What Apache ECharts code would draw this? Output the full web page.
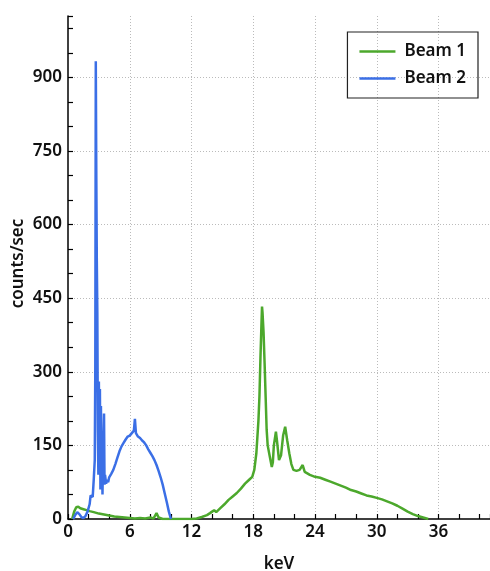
<!DOCTYPE html>
<html>
<head>
<meta charset="utf-8">
<script src="https://cdn.jsdelivr.net/npm/echarts@6/dist/echarts.min.js"></script>
<style>
  html, body { margin: 0; padding: 0; background: #fff; }
  #chart { width: 490px; height: 571px; }
</style>
</head>
<body>
<div id="chart"></div>
<script>
// energy spectra (keV vs counts/sec)
const beam1Kev = [0.4, 0.6, 0.8, 1.0, 1.2, 1.5, 1.8, 2.1, 2.5, 3.0, 3.5, 4.0, 4.5, 5.0, 5.5, 6.0, 6.5, 7.0, 7.5, 8.0, 8.3, 8.6, 8.8, 9.2, 10, 11, 12,
    12.5, 13.0, 13.5, 13.8, 14.0, 14.2, 14.4, 14.8, 15.2, 15.6, 16.0, 16.4, 16.8, 17.2, 17.6, 17.9, 18.1, 18.3, 18.5, 18.6, 18.7, 18.8, 18.85, 18.9,
    19.0, 19.1, 19.2, 19.3, 19.4, 19.6, 19.8, 19.9, 20.0, 20.2, 20.3, 20.5, 20.7, 20.9, 21.1, 21.3, 21.5, 21.7, 21.9, 22.2, 22.5, 22.8, 23.0, 23.5,
    24.0, 24.5, 25.0, 25.5, 26.0, 26.5, 27.0, 27.5, 28.0, 28.5, 29.0, 29.5, 30.0, 30.5, 31.0, 31.5, 32.0, 32.5, 33.0, 33.5, 34.0, 34.5, 35.0];
const beam1Counts = [0, 15, 24, 25, 22, 20, 18, 16, 14, 11, 9, 7, 5, 4, 3, 2, 1, 2, 1, 3, 1, 12, 3, 0, 0, 0, 0,
    1, 4, 8, 12, 15, 18, 14, 22, 30, 39, 46, 53, 62, 72, 80, 86, 100, 134, 200, 250, 330, 400, 433, 420,
    380, 318, 250, 182, 150, 128, 106, 115, 150, 178, 160, 120, 130, 170, 188, 160, 134, 112, 100, 98, 100, 110, 96, 90,
    86, 84, 80, 76, 72, 68, 64, 59, 56, 52, 48, 46, 43, 40, 36, 32, 27, 21, 15, 10, 6, 3, 0];

const beam2Kev = [0.5, 0.7, 0.9, 1.1, 1.3, 1.5, 1.7, 1.9, 2.1, 2.2, 2.3, 2.4, 2.5, 2.6, 2.65, 2.7, 2.75, 2.8, 2.85, 2.9, 2.95, 3.0, 3.05, 3.1,
    3.15, 3.2, 3.25, 3.3, 3.35, 3.4, 3.5, 3.55, 3.6, 3.7, 3.8, 3.9, 4.0, 4.2, 4.4, 4.6, 4.8, 5.0, 5.2, 5.4, 5.6, 5.8, 6.0, 6.2, 6.4, 6.5, 6.6,
    6.8, 7.0, 7.2, 7.4, 7.6, 7.8, 8.0, 8.2, 8.4, 8.6, 8.8, 9.0, 9.2, 9.4, 9.6, 9.8, 10.0];
const beam2Counts = [0, 8, 14, 10, 4, 2, 6, 15, 30, 48, 52, 45, 80, 120, 300, 933, 700, 525, 420, 180, 90, 280, 120, 265,
    60, 230, 80, 150, 50, 120, 215, 70, 90, 72, 80, 75, 85, 92, 100, 112, 125, 138, 148, 155, 162, 168, 170, 175, 180, 204, 175,
    168, 165, 160, 156, 150, 142, 135, 128, 120, 110, 98, 85, 70, 52, 34, 15, 0];

const xLabelStep = 6;
const yLabelStep = 150;

const zip = (xs, ys) => xs.map((x, i) => [x, ys[i]]);

const textStyle = { fontFamily: 'Noto Sans', fontSize: 17, fontWeight: 600, color: '#111' };
const lineIcon = 'path://M0,0 L40,0 L40,3 L0,3 Z';

const initChart = () => {
    const myChart = echarts.init(document.getElementById('chart'));
    myChart.setOption({
        animation: false,
        grid: { left: 68, right: 0, top: 16, bottom: 52, containLabel: false, outerBoundsMode: 'none' },
        legend: {
            orient: 'vertical',
            right: 12,
            top: 32,
            padding: [11, 12, 11, 12],
            itemGap: 10,
            itemWidth: 36,
            itemHeight: 3,
            borderColor: '#222',
            borderWidth: 1.2,
            textStyle: Object.assign({}, textStyle, { padding: [0, 0, 0, 4] }),
            data: [{ name: 'Beam 1', icon: lineIcon }, { name: 'Beam 2', icon: lineIcon }]
        },
        xAxis: [{
            type: 'value', min: 0, max: 41, interval: 2,
            name: 'keV', nameLocation: 'middle', nameGap: 37, nameTextStyle: textStyle,
            axisLine: { lineStyle: { color: '#000', width: 1.5 } },
            axisTick: { inside: true, length: 5, lineStyle: { color: '#000', width: 1.2 } },
            axisLabel: Object.assign({ margin: 5, formatter: v => (v % xLabelStep === 0 ? String(v) : '') }, textStyle),
            splitLine: { show: false }
        }, {
            type: 'value', min: 0, max: 41, interval: xLabelStep, position: 'bottom',
            axisLine: { show: false }, axisTick: { show: false }, axisLabel: { show: false },
            splitLine: { show: true, showMinLine: false, lineStyle: { color: '#bbb', type: [1, 2], width: 1 } }
        }],
        yAxis: [{
            type: 'value', min: 0, max: 1025, interval: 50,
            name: 'counts/sec', nameLocation: 'middle', nameGap: 41, nameMoveOverlap: false,
            nameTextStyle: Object.assign({}, textStyle, { padding: [0, 0, 0, 8] }),
            axisLine: { show: true, lineStyle: { color: '#000', width: 1.5 } },
            axisTick: { show: true, inside: true, length: 5, lineStyle: { color: '#000', width: 1.2 } },
            axisLabel: Object.assign({ margin: 6, formatter: v => (v % yLabelStep === 0 ? String(v) : '') }, textStyle),
            splitLine: { show: false }
        }, {
            type: 'value', min: 0, max: 1025, interval: yLabelStep, position: 'left',
            axisLine: { show: false }, axisTick: { show: false }, axisLabel: { show: false },
            splitLine: { show: true, showMinLine: false, showMaxLine: false, lineStyle: { color: '#bbb', type: [1, 2], width: 1 } }
        }],
        series: [{
            name: 'Beam 1', type: 'line', symbol: 'none',
            lineStyle: { color: '#4ca82c', width: 2.5 }, itemStyle: { color: '#4ca82c' },
            data: zip(beam1Kev, beam1Counts)
        }, {
            name: 'Beam 2', type: 'line', symbol: 'none',
            lineStyle: { color: '#3b6fe6', width: 2.5 }, itemStyle: { color: '#3b6fe6' },
            data: zip(beam2Kev, beam2Counts)
        }]
    });
};

window.addEventListener('load', initChart);
</script>
</body>
</html>
